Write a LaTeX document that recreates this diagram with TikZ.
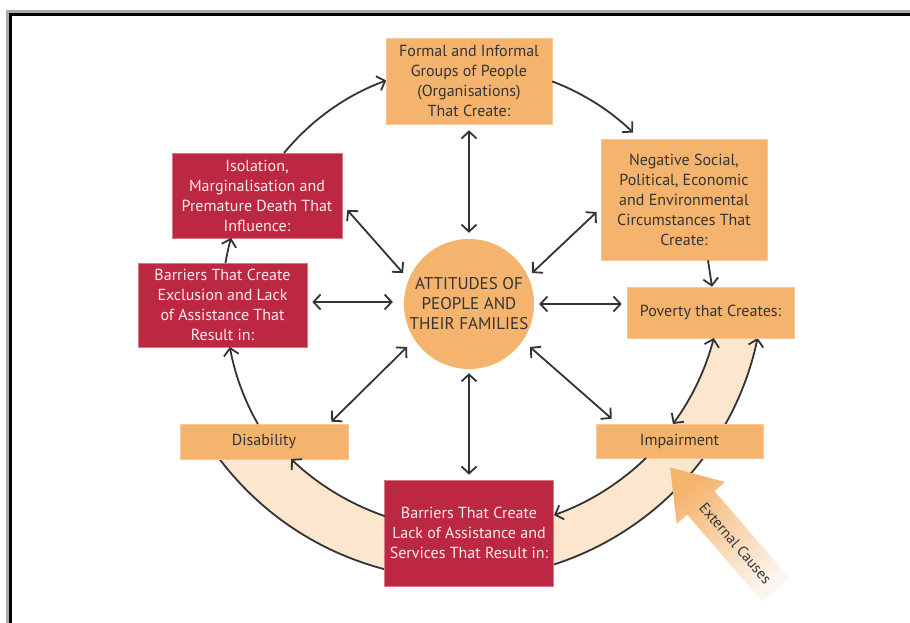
\documentclass[tikz,border=0pt]{standalone}
\usepackage{fontspec}
\setmainfont{PT Sans}
\usetikzlibrary{arrows.meta,calc}
\definecolor{bor}{RGB}{244,180,110}
\definecolor{borl}{RGB}{247,200,150}
\definecolor{bred}{RGB}{188,40,66}
\definecolor{bredl}{RGB}{215,120,135}
\definecolor{bandc}{RGB}{252,230,206}
\definecolor{lnc}{RGB}{51,51,51}
\definecolor{txd}{RGB}{52,52,52}
\definecolor{txl}{RGB}{252,236,238}
\definecolor{frg}{RGB}{170,170,170}
\definecolor{tailc}{RGB}{252,246,240}
\begin{document}
\begin{tikzpicture}[x=1pt,y=1pt,
  obox/.style={rectangle, fill=bor, draw=borl, line width=0.6pt, text=txd, align=center, inner sep=0pt, font=\fontsize{16}{20}\selectfont},
  rbox/.style={rectangle, fill=bred, draw=bredl, line width=0.6pt, text=txl, align=center, inner sep=0pt, font=\fontsize{16}{20}\selectfont},
  conn/.style={draw=lnc, line width=1.8pt},
  >={Straight Barb[length=7pt,width=15pt]}]
\useasboundingbox (0,0) rectangle (910,623);
\fill[white] (0,0) rectangle (910,623);
% frame
\fill[frg] (6,0) rectangle (9,613);
\fill[frg] (6,610) rectangle (910,613);
\fill[black] (9,0) rectangle (12,610);
\fill[black] (9,607) rectangle (910,610);
% centres
\coordinate (C) at (468,319);
\coordinate (O) at (461,347);
\coordinate (I) at (468,349);
% band
\fill[bandc] ($(O)+(217.15:303)$) arc[start angle=217.15,end angle=348.2,radius=303]
  -- ($(I)+(-14.6:254)$) arc[start angle=-14.6,end angle=-40,radius=254]
  -- ($(I)+(-40:256)$) arc[start angle=-40,end angle=-133.73,radius=256] -- cycle;
\draw[conn,->] ($(O)+(217.15:303)$) arc[start angle=217.15,end angle=348.2,radius=303];
% external causes arrow
\shade[top color=bor, bottom color=tailc, shading angle=40.8]
  (762.4,21.2) -- (687.3,108.3) -- (676.7,99.2) -- (670.1,155.6) -- (725.1,141.0) -- (714.5,131.9) -- (789.6,44.8) -- cycle;
\node[rotate=-49.2, text=txd, font=\fontsize{15}{18}\selectfont] (ext) at (735.5,79.9) {External Causes};
% nodes
\node[circle, fill=bor, minimum size=130pt, inner sep=0pt, text=txd, align=center, font=\fontsize{17}{20}\selectfont] (att) at (469,319) {ATTITUDES OF\\PEOPLE AND\\THEIR FAMILIES};
\node[obox, minimum width=166pt, minimum height=86pt] (org) at (469,542) {Formal and Informal\\Groups of People\\(Organisations)\\That Create:};
\node[obox, minimum width=166pt, minimum height=121pt] (neg) at (684,423.5) {Negative Social,\\Political, Economic\\and Environmental\\Circumstances That\\Create:};
\node[obox, minimum width=167pt, minimum height=51pt] (pov) at (710.5,310.5) {Poverty that Creates:};
\node[obox, minimum width=167pt, minimum height=34pt] (imp) at (679.5,182) {Impairment};
\node[rbox, minimum width=169pt, minimum height=106pt] (bar) at (469,90) {Barriers That Create\\Lack of Assistance and\\Services That Result in:};
\node[obox, minimum width=168pt, minimum height=35pt] (dis) at (264,181.5) {Disability};
\node[rbox, minimum width=169pt, minimum height=84pt] (excl) at (222.5,318) {Barriers That Create\\Exclusion and Lack\\of Assistance That\\Result in:};
\node[rbox, minimum width=170pt, minimum height=85pt] (isol) at (257,427.5) {Isolation,\\Marginalisation and\\Premature Death That\\Influence:};
% radial arrows
\draw[conn,<->] ([yshift=-6pt]org.south) -- ([yshift=6pt]att.north);
\draw[conn,<->] ([yshift=-4pt]att.south) -- ([yshift=5pt]bar.north);
\draw[conn,<->] ([shift={(5,3)}]excl.east) -- ([shift={(-11,2)}]att.west);
\draw[conn,<->] ([xshift=5pt]att.east) -- ([shift={(-5,8.5)}]pov.west);
\draw[conn,<->] ([shift={(5,-14.5)}]isol.east) -- ($(att)+(-66,31)$);
\draw[conn,<->] ([shift={(-4,-12.5)}]neg.west) -- ($(att)+(63,31)$);
\draw[conn,<->] ($(att)+(-62,-43)$) -- ([shift={(-17,2)}]dis.north east);
\draw[conn,<->] ($(att)+(61,-43)$) -- ([shift={(16,5)}]imp.north west);
% cycle
\draw[conn,->] ($(C)+(140.6:238)$) arc[start angle=140.6,end angle=110.1,radius=238];
\draw[conn,->] ($(C)+(69.3:238)$) arc[start angle=69.3,end angle=46.1,radius=238];
\draw[conn,->] ([xshift=24pt]neg.south) -- ([xshift=1.5pt]pov.north);
\draw[conn,<->] ($(I)+(-14.6:254)$) arc[start angle=-14.6,end angle=-36.2,radius=254];
\draw[conn,->] ($(I)+(-45.95:256)$) arc[start angle=-45.95,end angle=-70.37,radius=256];
\draw[conn,->] ($(I)+(-108.92:256)$) arc[start angle=-108.92,end angle=-133.73,radius=256];
\draw[conn,->] ($(C)+(209.73:242)$) arc[start angle=209.73,end angle=190.24,radius=242];
\draw[conn,->] ($(C)+(170.4:246)$) arc[start angle=170.4,end angle=164.4,radius=246];
\end{tikzpicture}
\end{document}
